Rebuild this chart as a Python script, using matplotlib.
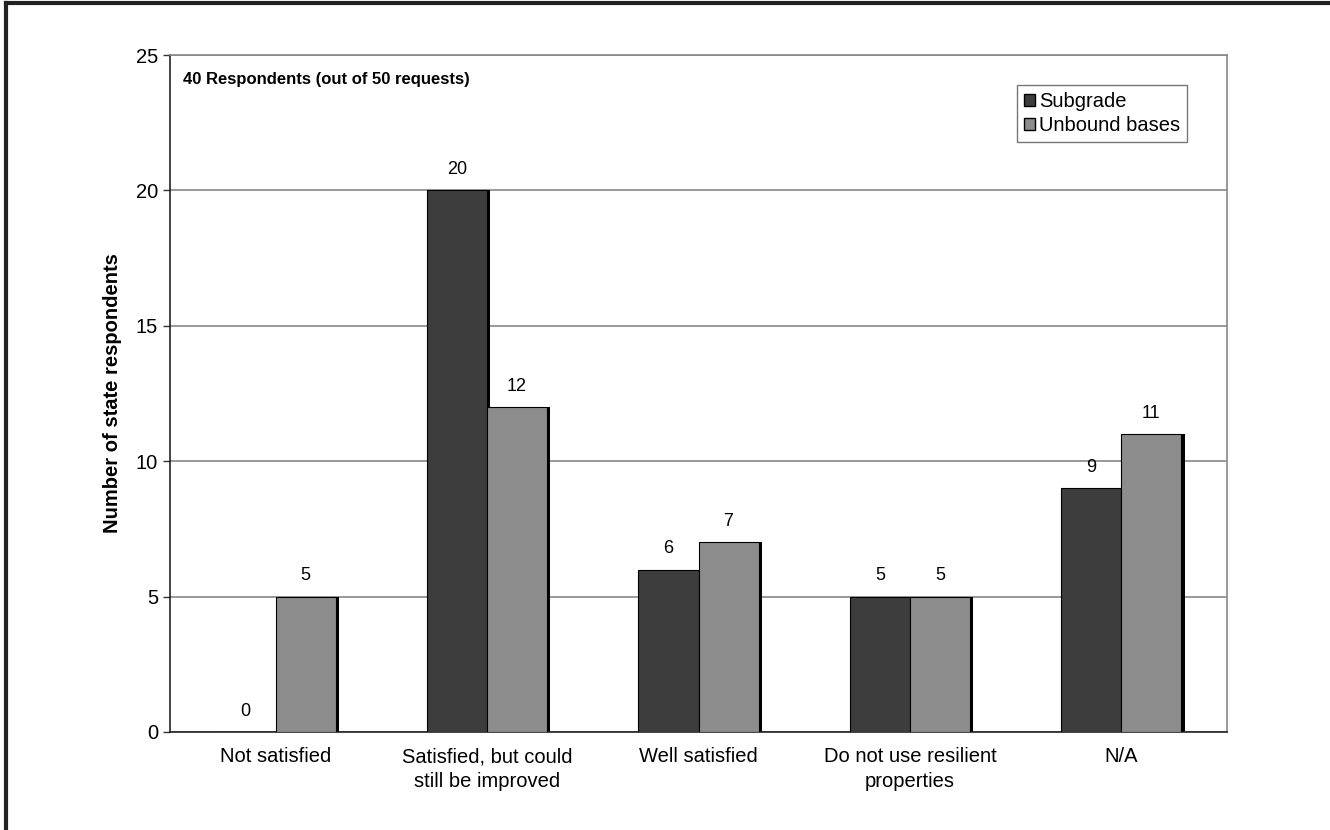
import numpy as np
import matplotlib.pyplot as plt
from matplotlib.lines import Line2D

plt.rcParams['font.family'] = ['Liberation Sans', 'DejaVu Sans']

categories = ['Not satisfied', 'Satisfied, but could\nstill be improved', 'Well satisfied',
              'Do not use resilient\nproperties', 'N/A']
subgrade = [0, 20, 6, 5, 9]
unbound = [5, 12, 7, 5, 11]
yticks = [0, 5, 10, 15, 20, 25]

dark = '#3d3d3d'
light = '#8c8c8c'
w = 0.284
sh = 0.015   # drop shadow offset

fig = plt.figure(figsize=(13.3, 8.3), dpi=100)
ax = fig.add_axes([0.1278, 0.1181, 0.7948, 0.8156])

x = np.arange(len(categories)) + 0.5
for xs, vals, col in [(x - w, subgrade, dark), (x, unbound, light)]:
    ax.bar(xs + sh, vals, width=w, align='edge', color='black', zorder=2)
    ax.bar(xs, vals, width=w, align='edge', color=col, edgecolor='black',
           linewidth=0.8, zorder=3)
    for xi, v in zip(xs, vals):
        ax.text(xi + w / 2, v + 0.45, str(v), ha='center', va='bottom', fontsize=13, zorder=4)

ax.set_xlim(0, 5)
ax.set_ylim(0, 25)
ax.set_yticks(yticks)
ax.set_xticks(x)
ax.set_xticklabels(categories, fontsize=14.5, linespacing=1.35)
ax.tick_params(axis='x', length=0, pad=11)
ax.tick_params(axis='y', labelsize=14.5, length=5, direction='out', width=1, color='#333333')
ax.yaxis.grid(True, color='#888888', linewidth=1.2, zorder=0)
ax.set_axisbelow(True)
for s in ['top', 'right']:
    ax.spines[s].set_color('#888888')
    ax.spines[s].set_linewidth(1.2)
for s in ['left', 'bottom']:
    ax.spines[s].set_color('#222222')
    ax.spines[s].set_linewidth(1.2)

ax.set_ylabel('Number of state respondents', fontsize=14.5, fontweight='bold', labelpad=10)
ax.text(0.012, 0.975, '40 Respondents (out of 50 requests)', transform=ax.transAxes,
        ha='left', va='top', fontsize=12, fontweight='bold')

handles = [plt.Rectangle((0, 0), 1, 1, facecolor=dark, edgecolor='black'),
           plt.Rectangle((0, 0), 1, 1, facecolor=light, edgecolor='black')]
leg = ax.legend(handles, ['Subgrade', 'Unbound bases'], loc='upper right',
                bbox_to_anchor=(0.962, 0.956), fontsize=14.5, frameon=True, fancybox=False,
                handlelength=0.55, handleheight=0.55, handletextpad=0.2, borderpad=0.35,
                labelspacing=0.25, borderaxespad=0)
leg.get_frame().set_edgecolor('#555555')
leg.get_frame().set_linewidth(1.0)

# outer frame lines along the top and left edge
fig.add_artist(Line2D([0.0045, 1.0], [0.996, 0.996], transform=fig.transFigure,
                      color='#222222', linewidth=3))
fig.add_artist(Line2D([0.0045, 0.0045], [0.0, 0.996], transform=fig.transFigure,
                      color='#222222', linewidth=3))

fig.savefig('out.png', dpi=100)
